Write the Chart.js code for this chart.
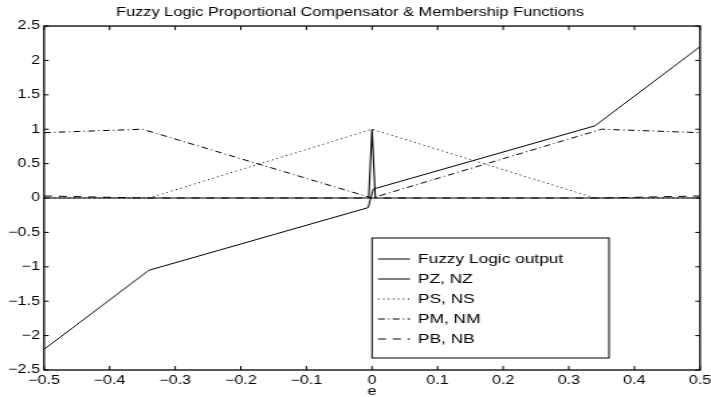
<!DOCTYPE html>
<html>
<head>
<meta charset="utf-8">
<script src="https://cdn.jsdelivr.net/npm/chart.js@4/dist/chart.umd.min.js"></script>
<style>
  html, body { margin: 0; padding: 0; background: #fff; }
  #c { display: block; width: 711px !important; height: 397px !important; }
</style>
</head>
<body>
<canvas id="c" width="530" height="397" style="width:711px;height:397px"></canvas>
<script>
// ---- data ----
const titleText = 'Fuzzy Logic Proportional Compensator & Membership Functions';
const xAxisLabel = 'e';
const xTicks = [-0.5, -0.4, -0.3, -0.2, -0.1, 0, 0.1, 0.2, 0.3, 0.4, 0.5];
const yTicks = [-2.5, -2, -1.5, -1, -0.5, 0, 0.5, 1, 1.5, 2, 2.5];

const seriesNames = ['Fuzzy Logic output', 'PZ, NZ', 'PS, NS', 'PM, NM', 'PB, NB'];

const fuzzyX = [-0.5, -0.34, -0.006, 0.002, 0.34, 0.5];
const fuzzyY = [-2.2, -1.05, -0.14, 0.13, 1.05, 2.2];

const pzX = [-0.5, -0.005, 0, 0.005, 0.5];
const pzY = [0, 0, 1, 0, 0];

const psX = [-0.5, -0.34, 0, 0.34, 0.5];
const psY = [0, 0, 1, 0, 0];

const pmX = [-0.5, -0.35, 0, 0.35, 0.5];
const pmY = [0.95, 1, 0, 1, 0.95];

const pbX = [-0.5, -0.35, 0, 0.35, 0.5];
const pbY = [0.03, 0, 0, 0, 0.03];

// ---- helpers ----
const pts = (xs, ys) => xs.map((x, i) => ({ x: x, y: ys[i] }));
const FONT = "'Liberation Sans', Arial, Helvetica, sans-serif";
const fmt = v => {
  let s = (Math.round(v * 10) / 10).toString();
  return s.replace('-', '\u2212');
};

function ds(label, xs, ys, dash, width) {
  return {
    label: label,
    data: pts(xs, ys),
    showLine: true,
    borderColor: '#000',
    backgroundColor: '#000',
    borderWidth: width,
    borderDash: dash,
    pointRadius: 0,
    fill: false,
    tension: 0
  };
}

const datasets = [
  ds(seriesNames[0], fuzzyX, fuzzyY, [], 1),
  ds(seriesNames[1], pzX, pzY, [], 1.1),
  ds(seriesNames[2], psX, psY, [1, 2.7], 1),
  ds(seriesNames[3], pmX, pmY, [5, 2.5, 1, 2.5], 1),
  ds(seriesNames[4], pbX, pbY, [6, 5], 1)
];

// Box, inward ticks (all four sides) and MATLAB-style legend
const matlabAxes = {
  id: 'matlabAxes',
  afterDatasetsDraw(chart) {
    const ctx = chart.ctx;
    const a = chart.chartArea;
    const xs = chart.scales.x, ys = chart.scales.y;
    ctx.save();
    ctx.strokeStyle = '#000';
    ctx.lineWidth = 1;
    ctx.setLineDash([]);
    ctx.beginPath();
    xTicks.forEach(v => {
      const px = xs.getPixelForValue(v);
      ctx.moveTo(px, a.bottom); ctx.lineTo(px, a.bottom - 4);
      ctx.moveTo(px, a.top); ctx.lineTo(px, a.top + 4);
    });
    yTicks.forEach(v => {
      const py = ys.getPixelForValue(v);
      ctx.moveTo(a.left, py); ctx.lineTo(a.left + 3.5, py);
      ctx.moveTo(a.right, py); ctx.lineTo(a.right - 3.5, py);
    });
    ctx.stroke();
    ctx.lineWidth = 1.3;
    ctx.strokeRect(a.left, a.top, a.right - a.left, a.bottom - a.top);

    // legend
    const lx = 277.3, ly = 238, lw = 176.7, lh = 120;
    ctx.fillStyle = '#fff';
    ctx.fillRect(lx, ly, lw, lh);
    ctx.lineWidth = 1;
    ctx.strokeRect(lx, ly, lw, lh);
    ctx.font = '12.9px ' + FONT;
    ctx.textBaseline = 'middle';
    ctx.textAlign = 'left';
    chart.data.datasets.forEach((d, i) => {
      const y = ly + 21 + i * 20;
      ctx.beginPath();
      ctx.setLineDash(d.borderDash || []);
      ctx.strokeStyle = d.borderColor;
      ctx.lineWidth = 1;
      ctx.moveTo(281.8, y); ctx.lineTo(305.6, y);
      ctx.stroke();
      ctx.setLineDash([]);
      ctx.fillStyle = '#000';
      ctx.fillText(d.label, 311.6, y + 0.5);
    });
    ctx.restore();
  }
};

new Chart(document.getElementById('c'), {
  type: 'scatter',
  data: { datasets: datasets },
  plugins: [matlabAxes],
  options: {
    responsive: false,
    animation: false,
    devicePixelRatio: 1,
    layout: { padding: { left: 0, right: 8.2, top: 0, bottom: 0 } },
    plugins: {
      legend: { display: false },
      tooltip: { enabled: false },
      title: {
        display: true,
        text: titleText,
        color: '#000',
        font: { family: FONT, size: 12.2, weight: 'normal' },
        padding: { top: 5, bottom: 6.4 }
      }
    },
    scales: {
      x: {
        type: 'linear',
        min: -0.5, max: 0.5,
        afterBuildTicks: s => { s.ticks = xTicks.map(v => ({ value: v })); },
        afterFit: s => { s.height = 27; s.paddingLeft = 0; s.paddingRight = 0; },
        grid: { display: false, drawTicks: false },
        border: { display: false },
        ticks: {
          color: '#000',
          padding: 3,
          maxRotation: 0,
          autoSkip: false,
          font: { family: FONT, size: 12 },
          callback: v => fmt(v)
        },
        title: {
          display: true,
          text: xAxisLabel,
          color: '#000',
          font: { family: FONT, size: 12 },
          padding: { top: 0, bottom: -1.5 }
        }
      },
      y: {
        type: 'linear',
        min: -2.5, max: 2.5,
        afterBuildTicks: s => { s.ticks = yTicks.map(v => ({ value: v })); },
        afterFit: s => { s.width = 32.8; s.paddingTop = 0; s.paddingBottom = 0; },
        grid: { display: false, drawTicks: false },
        border: { display: false },
        ticks: {
          color: '#000',
          padding: 3,
          autoSkip: false,
          font: { family: FONT, size: 12 },
          callback: v => fmt(v)
        }
      }
    }
  }
});
</script>
</body>
</html>
